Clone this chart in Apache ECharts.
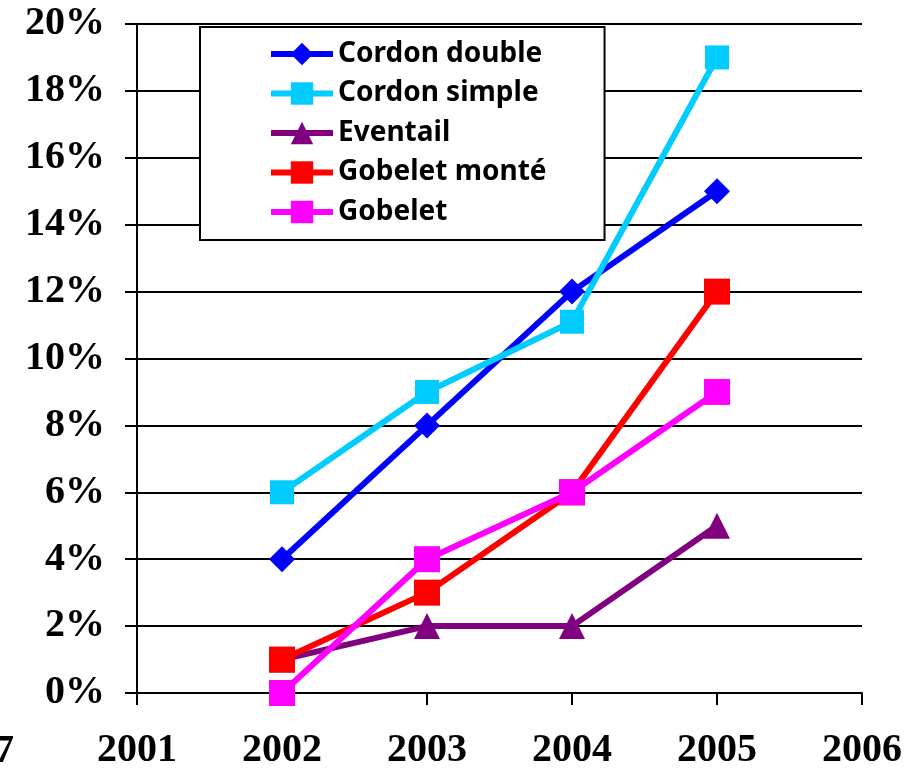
<!DOCTYPE html>
<html>
<head>
<meta charset="utf-8">
<script src="https://cdn.jsdelivr.net/npm/echarts@6/dist/echarts.min.js"></script>
<style>
html,body{margin:0;padding:0;background:#fff;}
#chart{width:920px;height:772px;}
</style>
</head>
<body>
<div id="chart"></div>
<script>
var years = [2002, 2003, 2004, 2005];
var cordonDouble = [4, 8, 12, 15];
var cordonSimple = [6, 9, 11.1, 19];
var eventail = [1, 2, 2, 5];
var gobeletMonte = [1, 3, 6, 12];
var gobelet = [0, 4, 6, 9];
var seriesNames = ['Cordon double', 'Cordon simple', 'Eventail', 'Gobelet monté', 'Gobelet'];
var seriesColors = ['#0000FF', '#00CCFF', '#800080', '#FF0000', '#FF00FF'];
var seriesSymbols = ['diamond', 'rect', 'triangle', 'rect', 'rect'];
var symbolSizes = [[26, 26], 24, 26, 26, 26];
var xMin = 2001, xMax = 2006;
var yTicks = [0, 2, 4, 6, 8, 10, 12, 14, 16, 18, 20];
var leftCutLabel = '7';

var allValues = [cordonDouble, cordonSimple, eventail, gobeletMonte, gobelet];
var serif = "'Times New Roman', 'Liberation Serif', serif";

var chart = echarts.init(document.getElementById('chart'), null, {renderer: 'canvas'});
var series = seriesNames.map(function (name, i) {
  return {
    name: name,
    type: 'line',
    data: years.map(function (y, j) { return [y, allValues[i][j]]; }),
    symbol: seriesSymbols[i],
    symbolSize: symbolSizes[i],
    showAllSymbol: true,
    lineStyle: {color: seriesColors[i], width: 6},
    itemStyle: {color: seriesColors[i]},
    emphasis: {disabled: true},
    animation: false
  };
});

chart.setOption({
  animation: false,
  backgroundColor: '#fff',
  grid: {left: 137, right: 58, top: 24, bottom: 79, containLabel: false},
  xAxis: {
    type: 'value',
    min: xMin, max: xMax, interval: 1,
    axisLine: {show: true, lineStyle: {color: '#000', width: 2}},
    axisTick: {show: true, inside: false, length: 12, lineStyle: {color: '#000', width: 2}},
    splitLine: {show: false},
    axisLabel: {
      margin: 38,
      color: '#000',
      fontFamily: serif,
      fontWeight: 'bold',
      fontSize: 40,
      formatter: function (v) { return String(v); }
    }
  },
  yAxis: {
    type: 'value',
    min: yTicks[0], max: yTicks[yTicks.length - 1], interval: yTicks[1] - yTicks[0],
    axisLine: {show: true, lineStyle: {color: '#000', width: 2}},
    axisTick: {show: true, inside: false, length: 12, lineStyle: {color: '#000', width: 2}},
    splitLine: {show: true, lineStyle: {color: '#000', width: 2}},
    axisLabel: {
      margin: 32,
      color: '#000',
      fontFamily: serif,
      fontWeight: 'bold',
      fontSize: 40,
      formatter: '{value}%'
    }
  },
  legend: {
    orient: 'vertical',
    left: 200,
    top: 27,
    backgroundColor: '#fff',
    borderColor: '#000',
    borderWidth: 2,
    padding: [13, 58, 14, 68],
    itemWidth: 62,
    itemHeight: 28,
    itemGap: 11.5,
    selectedMode: false,
    data: seriesNames,
    lineStyle: {width: 6},
    textStyle: {
      color: '#000',
      fontFamily: "'Comic Sans MS', 'Noto Sans', sans-serif",
      fontWeight: 'bold',
      fontSize: 28
    }
  },
  graphic: [{
    type: 'text',
    left: -6,
    top: 732,
    style: {
      text: leftCutLabel,
      fill: '#000',
      font: "bold 40px 'Times New Roman', 'Liberation Serif', serif"
    }
  }],
  series: series
});
</script>
</body>
</html>
